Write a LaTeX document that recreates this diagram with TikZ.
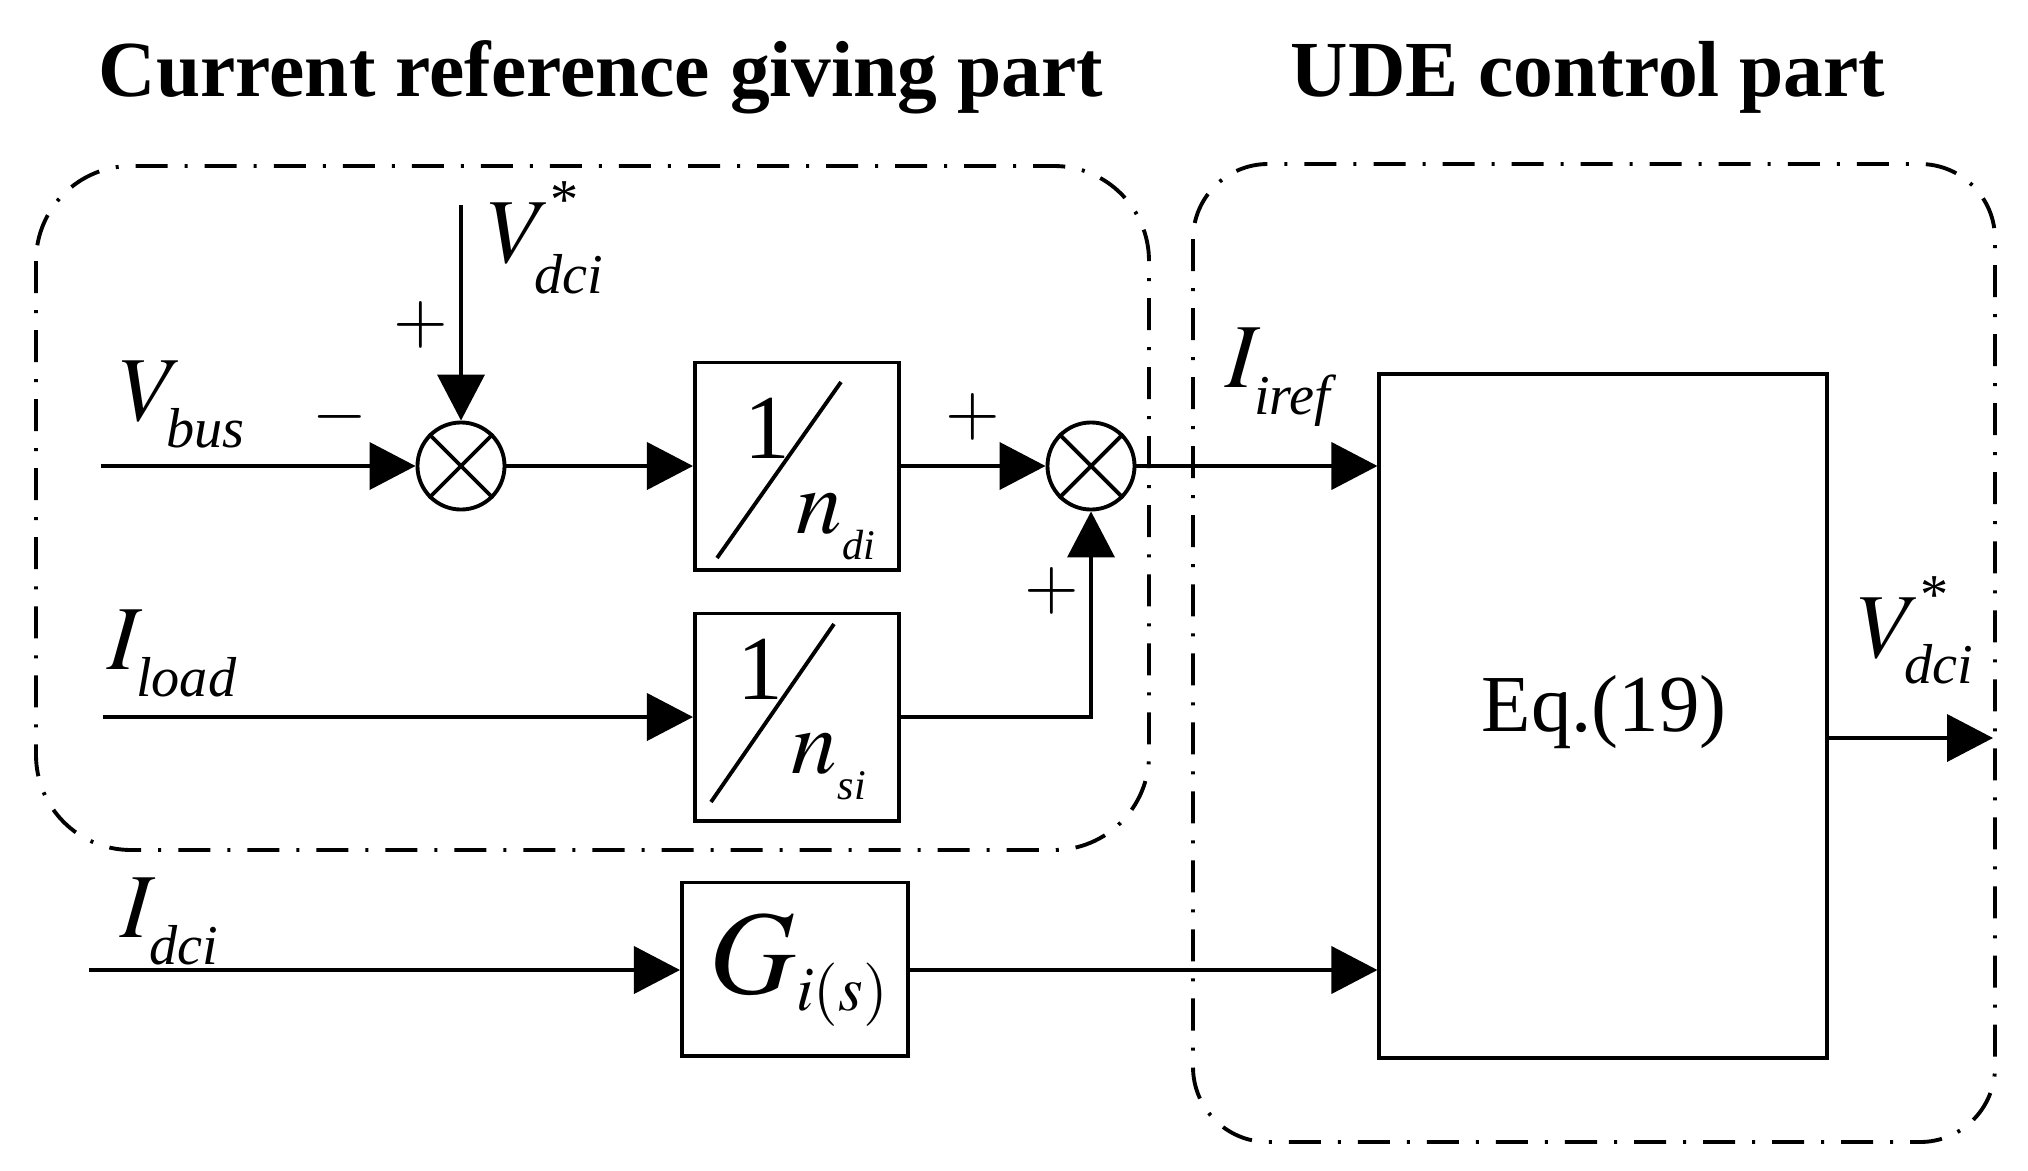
\documentclass[tikz,border=0pt]{standalone}
\usepackage{mathptmx}
\usepackage[no-math]{fontspec}
\setmainfont{Liberation Serif}
\usetikzlibrary{arrows.meta}
\DeclareMathSizes{26}{26}{16}{12}
\DeclareMathSizes{34}{34}{18}{12}
\newcommand{\stx}{\raise3pt\hbox{\fontsize{16}{20}\selectfont *}}
\newcommand{\dsub}[2][4pt]{\lower#1\hbox{\fontsize{16}{18}\selectfont\itshape #2}}
\newcommand{\ddsub}[1]{\lower3.5pt\hbox{\fontsize{12}{14}\selectfont\itshape #1}}
\tikzset{
  sig/.style = {anchor = base west, inner sep = 0pt, font = \fontsize{26}{30}\selectfont},
  sign/.style = {inner sep = 0pt, font = \fontsize{20}{24}\selectfont},
  block/.style = {draw, inner sep = 0pt},
  sum/.style = {draw, circle, inner sep = 0pt, minimum size = 0.87cm},
  part/.style = {line width = 1.1pt, dash pattern = on 0.32cm off 0.17cm on 0.03cm off 0.17cm},
  title/.style = {anchor = base west, inner sep = 0pt, font = \fontsize{22.6}{27}\selectfont\bfseries}
}

\begin{document}
\begin{tikzpicture}[x = 0.01cm, y = -0.01cm, line width = 1.1pt, >={Triangle[length = 4.6mm, width = 4.7mm]}]
  \useasboundingbox (0, 0) rectangle (2028, 1170);
  % titles
  \node (t1) at (97, 97) [title] {Current reference giving part};
  \node (t2) at (1289, 97) [title] {UDE control part};
  % the two parts
  \draw [part, rounded corners = 0.95cm] (36, 166) rectangle (1149, 850);
  \draw [part, rounded corners = 0.75cm] (1193, 164) rectangle (1995, 1142);
  % free ends
  \coordinate (vbusin) at (101, 466);
  \coordinate (vrefin) at (461, 205);
  \coordinate (iloadin) at (103, 717);
  \coordinate (idciin) at (89, 970);
  \coordinate (vout) at (1993, 738);
  % blocks
  \node (sum1) at (461, 466) [sum] {};
  \node (sum2) at (1091, 466) [sum] {};
  \node (nd) at (797, 466) [block, minimum width = 2.04cm, minimum height = 2.07cm] {};
  \node (ns) at (797, 717) [block, minimum width = 2.04cm, minimum height = 2.07cm] {};
  \node (gi) at (795, 969) [block, minimum width = 2.26cm, minimum height = 1.73cm] {};
  \node (eq) at (1603, 716) [block, minimum width = 4.47cm, minimum height = 6.84cm] {};
  \foreach \s in {sum1, sum2}
    \draw (\s.45) -- (\s.225) (\s.135) -- (\s.315);
  % block texts
  \draw (717, 558) -- (841, 382);
  \node (one1) at (767, 458) [sig, anchor = base] {1};
  \node (nd1) at (795, 533) [sig] {$n_{\ddsub{di}}$};
  \draw (711, 802) -- (834, 624);
  \node (one2) at (760, 699) [sig, anchor = base] {1};
  \node (ns1) at (790, 773) [sig] {$n_{\ddsub{si}}$};
  \node (g1) at (708, 993) [sig, font = \fontsize{34}{40}\selectfont] {$G_{i(s)}$};
  \node (eq1) at (1604, 731) [sig, anchor = base, font = \fontsize{23}{28}\selectfont] {Eq.(19)};
  % signals
  \node (lbus) at (118, 420) [sig] {$V_{\dsub{bus}}$};
  \node (lref) at (486, 262) [sig] {$V^{\stx}_{\dsub[2.5pt]{dci}}$};
  \node (lload) at (106, 669) [sig] {$I_{\dsub{load}}$};
  \node (ldci) at (119, 937) [sig] {$I_{\dsub{dci}}$};
  \node (liref) at (1224, 387) [sig] {$I_{\dsub{iref}}$};
  \node (lout) at (1856, 657) [sig] {$V^{\stx}_{\dsub[1pt]{dci}}$};
  % signs
  \node (m1) at (340, 417) [sign] {$-$};
  \node (p1) at (421, 325) [sign] {$+$};
  \node (p2) at (973, 417) [sign] {$+$};
  \node (p3) at (1052, 591) [sign] {$+$};
  % connectors
  \draw [->] (vbusin) -- (sum1);
  \draw [->] (vrefin) -- (sum1);
  \draw [->] (sum1) -- (nd);
  \draw [->] (nd) -- (sum2);
  \draw [->] (iloadin) -- (ns);
  \draw [->] (ns) -| (sum2);
  \draw [->] (sum2) -- (sum2 -| eq.west);
  \draw [->] (idciin) -- (idciin -| gi.west);
  \draw [->] (gi.east |- idciin) -- (idciin -| eq.west);
  \draw [->] (eq.east |- vout) -- (vout);
\end{tikzpicture}
\end{document}
